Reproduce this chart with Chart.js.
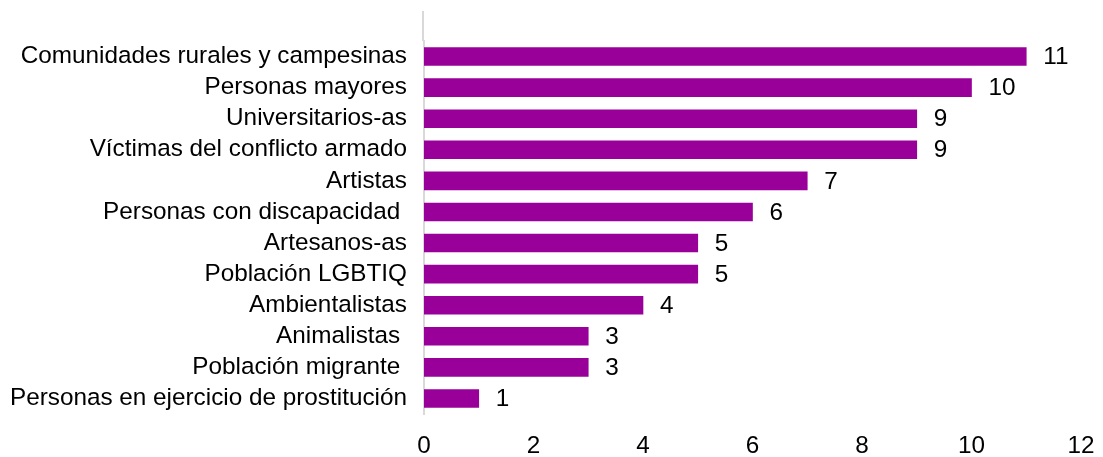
<!DOCTYPE html>
<html>
<head>
<meta charset="utf-8">
<script src="https://cdn.jsdelivr.net/npm/chart.js@4"></script>
<style>
  body { margin: 0; background: #fff; }
  #wrap { width: 1103px; height: 457px; }
</style>
</head>
<body>
<div id="wrap"><canvas id="GraficoGrupos"></canvas></div>
<script>
var grupos = [
    'Comunidades rurales y campesinas',
    'Personas mayores',
    'Universitarios-as',
    'Víctimas del conflicto armado',
    'Artistas',
    'Personas con discapacidad ',
    'Artesanos-as',
    'Población LGBTIQ',
    'Ambientalistas',
    'Animalistas ',
    'Población migrante ',
    'Personas en ejercicio de prostitución'
];
var cantidades = [11, 10, 9, 9, 7, 6, 5, 5, 4, 3, 3, 1];
var ticksX = [0, 2, 4, 6, 8, 10, 12];

var fuente = { family: 'Arial, "Liberation Sans", sans-serif', size: 24.3 };

// valores al final de cada barra y linea del eje que sube por encima de las barras
var etiquetas = {
    id: 'etiquetas',
    afterDatasetsDraw: function (chart) {
        var ctx = chart.ctx;
        var meta = chart.getDatasetMeta(0);
        ctx.save();
        ctx.font = fuente.size + 'px ' + fuente.family;
        ctx.fillStyle = '#000';
        ctx.textAlign = 'left';
        ctx.textBaseline = 'middle';
        meta.data.forEach(function (barra, i) {
            ctx.fillText(cantidades[i], barra.x + 17, barra.y + 1);
        });
        var x0 = chart.scales.x.getPixelForValue(0);
        ctx.strokeStyle = '#d9d9d9';
        ctx.lineWidth = 2;
        ctx.beginPath();
        ctx.moveTo(x0 - 1, 11);
        ctx.lineTo(x0 - 1, chart.chartArea.top);
        ctx.stroke();
        ctx.restore();
    }
};

var ctx = document.getElementById('GraficoGrupos').getContext('2d');

var grafico = new Chart(ctx, {
    type: 'bar',
    data: {
        labels: grupos,
        datasets: [
            {
                label: 'Grupos',
                backgroundColor: '#990099',
                data: cantidades,
                barThickness: 18
            }
        ]
    },
    options: {
        indexAxis: 'y',
        responsive: true,
        maintainAspectRatio: false,
        animation: false,
        layout: { padding: { top: 41, right: 22, left: 0, bottom: 0 } },
        plugins: {
            legend: { display: false },
            tooltip: { enabled: false }
        },
        scales: {
            x: {
                min: 0,
                max: 12,
                afterBuildTicks: function (scale) {
                    scale.ticks = ticksX.map(function (v) { return { value: v }; });
                },
                grid: { display: false, drawTicks: false },
                border: { display: false },
                ticks: { font: fuente, color: '#000', padding: 18, maxRotation: 0 },
                afterFit: function (scale) {
                    scale.height = 43;
                    scale.paddingLeft = 0;
                    scale.paddingRight = 0;
                }
            },
            y: {
                grid: { display: false, drawTicks: false },
                border: { display: true, color: '#d9d9d9', width: 2 },
                ticks: { font: fuente, color: '#000', padding: 17, autoSkip: false },
                afterFit: function (scale) { scale.width = 424; }
            }
        }
    },
    plugins: [etiquetas]
});
</script>
</body>
</html>
